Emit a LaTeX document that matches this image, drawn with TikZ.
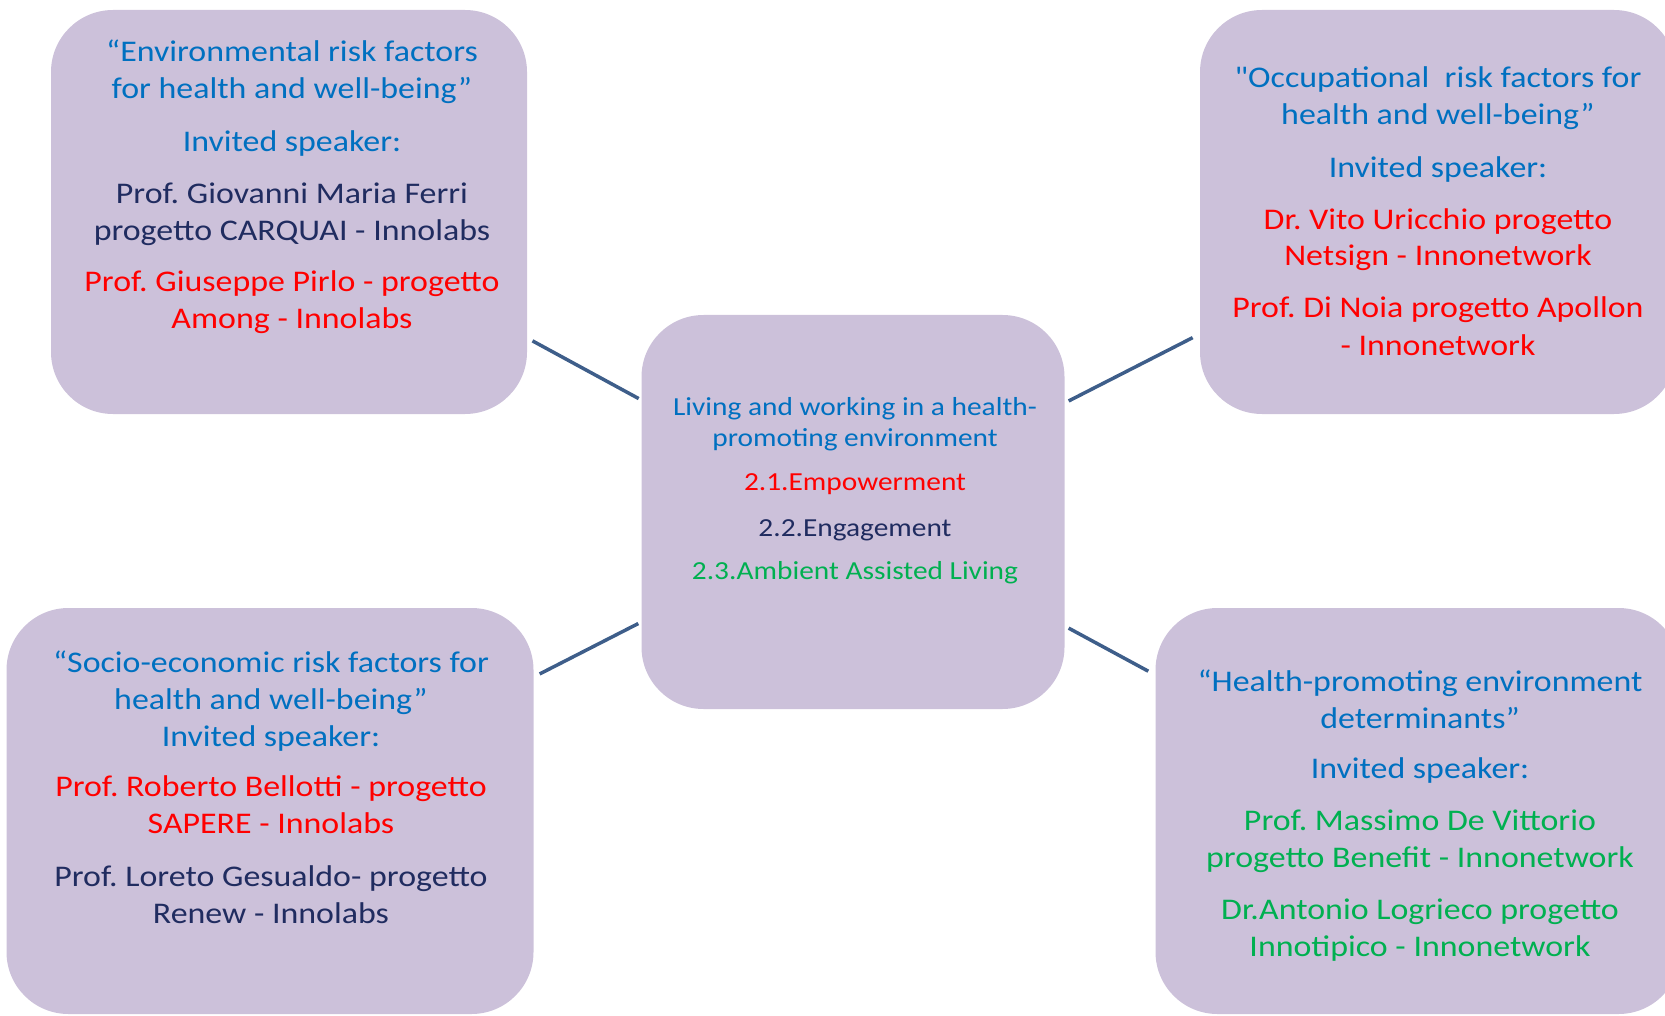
\documentclass[tikz,border=0pt]{standalone}
\usepackage{fontspec}
\setmainfont{Carlito}[FakeStretch=1.13, Ligatures=TeXOff]
\frenchspacing

\definecolor{panelfill}{RGB}{204,193,218}
\definecolor{titleblue}{RGB}{0,112,192}
\definecolor{nameblue}{RGB}{32,44,96}
\definecolor{namered}{RGB}{255,0,0}
\definecolor{namegreen}{RGB}{0,176,80}
\definecolor{linkblue}{RGB}{62,94,138}

\begin{document}
\begin{tikzpicture}[x=1pt, y=1pt,
  panel/.style={fill=panelfill, rounded corners=62pt, inner sep=0pt},
  paneltext/.style={anchor=base, align=center, inner sep=0pt, font=\fontsize{30}{37}\selectfont},
  hubtext/.style={anchor=base, align=center, inner sep=0pt, font=\fontsize{26}{31}\selectfont},
  link/.style={line width=3.5pt, linkblue}]

      \useasboundingbox (0,0) rectangle (1665,-1016);

      % Draw the panels
      \node[panel, minimum width=476pt, minimum height=404pt] (tl) at (289,-212) {};
      \node[panel, minimum width=476pt, minimum height=404pt] (tr) at (1438,-212) {};
      \node[panel, minimum width=423pt, minimum height=394pt] (hub) at (853,-512) {};
      \node[panel, minimum width=527pt, minimum height=406pt] (bl) at (270,-811) {};
      \node[panel, minimum width=525pt, minimum height=406pt] (br) at (1418,-811) {};

      % Texts of the panels (placed by their last line)
      \node[paneltext] (tltext) at (292,-328) {%
        \textcolor{titleblue}{“Environmental risk factors}\\
        \textcolor{titleblue}{for health and well-being”}\\[16pt]
        \textcolor{titleblue}{Invited speaker:}\\[15pt]
        \textcolor{nameblue}{Prof. Giovanni Maria Ferri}\\
        \textcolor{nameblue}{progetto CARQUAI - Innolabs}\\[14pt]
        \textcolor{namered}{Prof. Giuseppe Pirlo - progetto}\\
        \textcolor{namered}{Among - Innolabs}};

      \node[paneltext] (trtext) at (1438,-355) {%
        \textcolor{titleblue}{"Occupational~ risk factors for}\\
        \textcolor{titleblue}{health and well-being”}\\[16pt]
        \textcolor{titleblue}{Invited speaker:}\\[15pt]
        \textcolor{namered}{Dr. Vito Uricchio progetto}\\
        \textcolor{namered}{Netsign - Innonetwork}\\[15pt]
        \textcolor{namered}{Prof. Di Noia progetto Apollon}\\
        \textcolor{namered}{- Innonetwork}};

      \node[hubtext] (hubtext) at (855,-579) {%
        \textcolor{titleblue}{Living and working in a health-}\\
        \textcolor{titleblue}{promoting environment}\\[13pt]
        \textcolor{namered}{2.1.Empowerment}\\[15pt]
        \textcolor{nameblue}{2.2.Engagement}\\[12pt]
        \textcolor{namegreen}{2.3.Ambient Assisted Living}};

      \node[paneltext] (bltext) at (271,-923) {%
        \textcolor{titleblue}{“Socio-economic risk factors for}\\
        \textcolor{titleblue}{health and well-being”}\\
        \textcolor{titleblue}{Invited speaker:}\\[13pt]
        \textcolor{namered}{Prof. Roberto Bellotti - progetto}\\
        \textcolor{namered}{SAPERE - Innolabs}\\[16pt]
        \textcolor{nameblue}{Prof. Loreto Gesualdo- progetto}\\
        \textcolor{nameblue}{Renew - Innolabs}};

      \node[paneltext] (brtext) at (1420,-956) {%
        \textcolor{titleblue}{“Health-promoting environment}\\
        \textcolor{titleblue}{determinants”}\\[13pt]
        \textcolor{titleblue}{Invited speaker:}\\[15pt]
        \textcolor{namegreen}{Prof. Massimo De Vittorio}\\
        \textcolor{namegreen}{progetto Benefit - Innonetwork}\\[15pt]
        \textcolor{namegreen}{Dr.Antonio Logrieco progetto}\\
        \textcolor{namegreen}{Innotipico - Innonetwork}};

      % Links from the hub to the panels
      \draw[link, shorten <=6pt, shorten >=3pt] ([yshift=-126pt]tl.east) -- ([yshift=112pt]hub.west);
      \draw[link, shorten <=4.5pt, shorten >=8pt] ([yshift=109pt]hub.east) -- ([yshift=-122pt]tr.west);
      \draw[link, shorten <=6.7pt, shorten >=3.4pt] ([yshift=134pt]bl.east) -- ([yshift=-110pt]hub.west);
      \draw[link, shorten <=4.5pt, shorten >=8pt] ([yshift=-114pt]hub.east) -- ([yshift=136pt]br.west);
    \end{tikzpicture}
\end{document}
